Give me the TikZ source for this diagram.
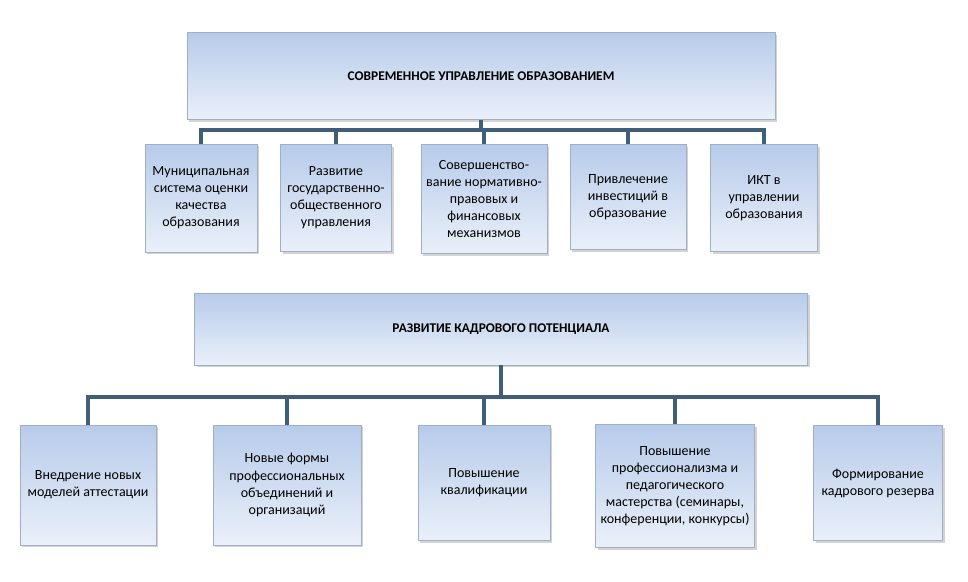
\documentclass[tikz,border=0pt]{standalone}
\usepackage{fontspec}
\setmainfont{Carlito}
\usetikzlibrary{shadows}
\definecolor{boxtop}{HTML}{B7CBEA}
\definecolor{boxbot}{HTML}{EAF0F9}
\definecolor{boxline}{HTML}{9FB0C6}
\definecolor{busline}{HTML}{3F5E7A}
\tikzset{
  box/.style={draw=boxline, top color=boxtop, bottom color=boxbot, align=center,
    inner sep=2pt, font=\fontsize{10.5}{12.8}\selectfont,
    drop shadow={shadow xshift=1.5pt, shadow yshift=-1.5pt, opacity=0.35}},
  head/.style={box, font=\bfseries\fontsize{10}{12}\selectfont},
  bus/.style={draw=busline, line width=2.4pt}
}
\begin{document}
\begin{tikzpicture}[x=0.75pt, y=-0.75pt]
\useasboundingbox (0,0) rectangle (968,582);
% upper block
\node[head, minimum width=588*0.75pt, minimum height=87*0.75pt] (gov) at (481,76) {СОВРЕМЕННОЕ УПРАВЛЕНИЕ ОБРАЗОВАНИЕМ};
\node[box, minimum width=112*0.75pt, minimum height=108*0.75pt] (g1) at (201,198) {Муниципальная\\система оценки\\качества\\образования};
\node[box, minimum width=111*0.75pt, minimum height=107*0.75pt] (g2) at (336,198) {Развитие\\государственно-\\общественного\\управления};
\node[box, minimum width=126*0.75pt, minimum height=109*0.75pt] (g3) at (484,199) {Совершенство-\\вание нормативно-\\правовых и\\финансовых\\механизмов};
\node[box, minimum width=116*0.75pt, minimum height=105*0.75pt] (g4) at (628,197) {Привлечение\\инвестиций в\\образование};
\node[box, minimum width=107*0.75pt, minimum height=107*0.75pt] (g5) at (764,198) {ИКТ в\\управлении\\образования};
\coordinate (gbus) at (481,130);
\draw[bus] (gov.south) -- (gbus);
\draw[bus] (g1.north) |- (gbus) -| (g5.north);
\foreach \n in {g2,g3,g4} \draw[bus] (\n.north) -- (\n.north |- gbus);
% lower block
\node[head, minimum width=613*0.75pt, minimum height=72*0.75pt] (staff) at (501,329) {РАЗВИТИЕ КАДРОВОГО ПОТЕНЦИАЛА};
\node[box, minimum width=136*0.75pt, minimum height=120*0.75pt] (s1) at (88,485) {Внедрение новых\\моделей аттестации};
\node[box, minimum width=148*0.75pt, minimum height=120*0.75pt] (s2) at (287,485) {Новые формы\\профессиональных\\объединений и\\организаций};
\node[box, minimum width=132*0.75pt, minimum height=115*0.75pt] (s3) at (484,483) {Повышение\\квалификации};
\node[box, minimum width=159*0.75pt, minimum height=123*0.75pt] (s4) at (675,486) {Повышение\\профессионализма и\\педагогического\\мастерства (семинары,\\конференции, конкурсы)};
\node[box, minimum width=129*0.75pt, minimum height=115*0.75pt] (s5) at (878,483) {Формирование\\кадрового резерва};
\coordinate (sbus) at (501,397);
\draw[bus] (staff.south) -- (sbus);
\draw[bus] (s1.north) |- (sbus) -| (s5.north);
\foreach \n in {s2,s3,s4} \draw[bus] (\n.north) -- (\n.north |- sbus);
\end{tikzpicture}
\end{document}
